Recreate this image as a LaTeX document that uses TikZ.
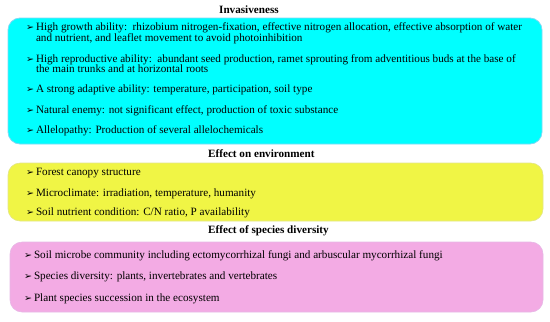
\documentclass[tikz,border=0pt]{standalone}
\usepackage{fontspec}
\setmainfont{Liberation Serif}
\newfontfamily\symfont{DejaVu Sans}
\usetikzlibrary{positioning}
\definecolor{InvCyan}{HTML}{00FFFF}
\definecolor{InvEdge}{HTML}{7FD8F5}
\definecolor{EnvYellow}{HTML}{F0F545}
\definecolor{EnvEdge}{HTML}{E2E48A}
\definecolor{DivPink}{HTML}{F3ABE4}
\definecolor{DivEdge}{HTML}{E6B8E6}
\newcommand{\bul}{{\symfont\scalebox{0.85}{➢}}\,}
\newcommand{\hang}{\hphantom{\bul}}

\begin{document}
\begin{tikzpicture}[x=1bp, y=-1bp, every node/.style={font=\fontsize{11.2}{10.2}\selectfont, inner sep=0pt}]
        \useasboundingbox (0,0) rectangle (550,321);
        \tikzset{
            boxtitle/.style={anchor=west, font=\fontsize{11.2}{10.2}\selectfont\bfseries},
            item/.style={anchor=base west, align=left}
        }

        % Invasiveness
        \node[boxtitle] (invTitle) at (219,10) {Invasiveness};
        \draw[rounded corners=12bp, fill=InvCyan, draw=InvEdge, line width=0.8pt] (8,18) rectangle (542,144);
        \node[item] (inv1) at (26,41.5) {\bul High growth ability:\ \ rhizobium nitrogen-fixation, effective nitrogen allocation, effective absorption of water\\\hang and nutrient, and leaflet movement to avoid photoinhibition};
        \node[item] (inv2) at (26,72.5) {\bul High reproductive ability:\ \ abundant seed production, ramet sprouting from adventitious buds at the base of\\\hang the main trunks and at horizontal roots};
        \node[item] (inv3) at (26,92.5) {\bul A strong adaptive ability: temperature, participation, soil type};
        \node[item] (inv4) at (26,113.5) {\bul Natural enemy: not significant effect, production of toxic substance};
        \node[item] (inv5) at (26,133.5) {\bul Allelopathy: Production of several allelochemicals};

        % Effect on environment
        \node[boxtitle] (envTitle) at (208,154) {Effect on environment};
        \draw[rounded corners=12bp, fill=EnvYellow, draw=EnvEdge, line width=0.6pt] (8,163) rectangle (543,221);
        \node[item] (env1) at (26,175.5) {\bul Forest canopy structure};
        \node[item] (env2) at (26,196.5) {\bul Microclimate: irradiation, temperature, humanity};
        \node[item] (env3) at (26,215.5) {\bul Soil nutrient condition: C/N ratio, P availability};

        % Effect of species diversity
        \node[boxtitle] (divTitle) at (208,231) {Effect of species diversity};
        \draw[rounded corners=12bp, fill=DivPink, draw=DivEdge, line width=0.6pt] (10,242) rectangle (543,312);
        \node[item] (div1) at (24,258.5) {\bul Soil microbe community including ectomycorrhizal fungi and arbuscular mycorrhizal fungi};
        \node[item] (div2) at (24,279.5) {\bul Species diversity: plants, invertebrates and vertebrates};
        \node[item] (div3) at (24,301.5) {\bul Plant species succession in the ecosystem};

    \end{tikzpicture}
\end{document}
